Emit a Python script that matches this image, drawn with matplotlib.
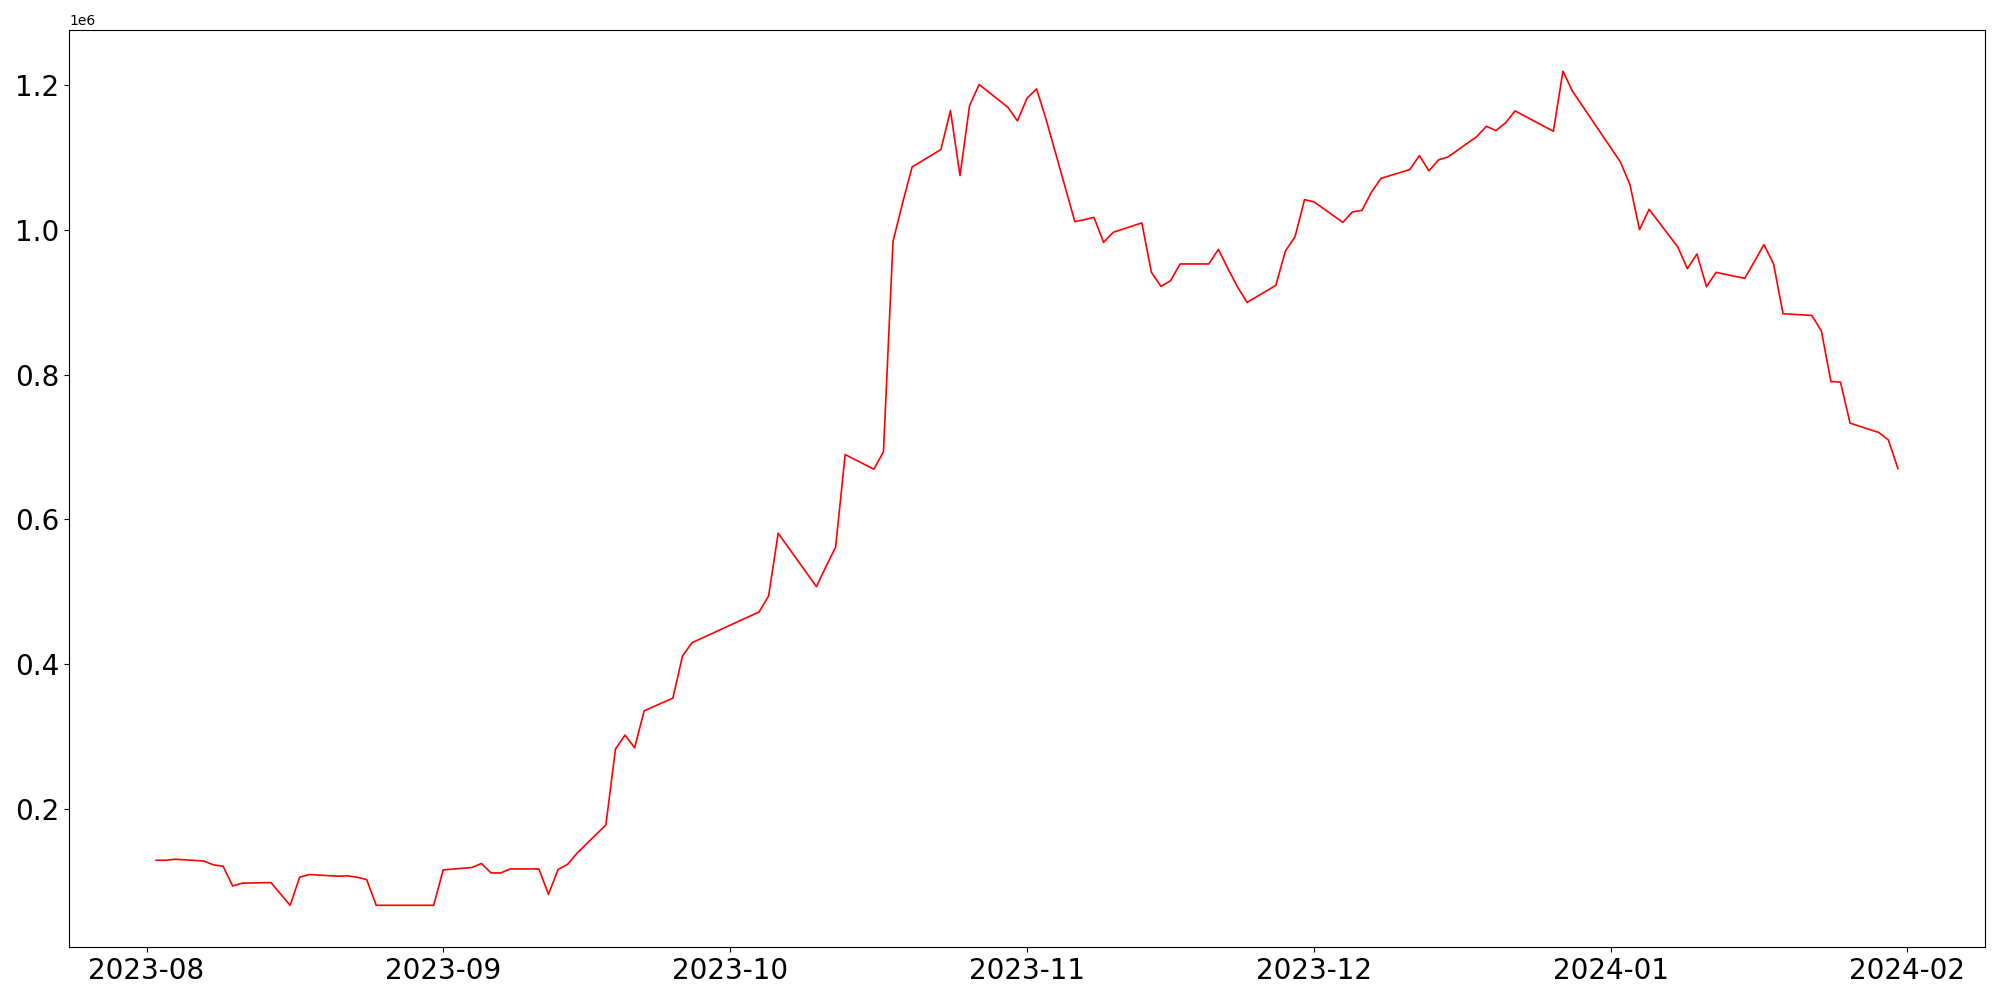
import matplotlib
matplotlib.use("Agg")
import matplotlib.pyplot as plt
import matplotlib.dates as mdates
import pandas as pd

dates = [
    "2023-08-02", "2023-08-03", "2023-08-04", "2023-08-07", "2023-08-08", "2023-08-09",
    "2023-08-10", "2023-08-11", "2023-08-14", "2023-08-16", "2023-08-17", "2023-08-18",
    "2023-08-21", "2023-08-22", "2023-08-23", "2023-08-24", "2023-08-25", "2023-08-28",
    "2023-08-29", "2023-08-30", "2023-08-31",
    "2023-09-01", "2023-09-04", "2023-09-05", "2023-09-06", "2023-09-07", "2023-09-08",
    "2023-09-11", "2023-09-12", "2023-09-13", "2023-09-14", "2023-09-15", "2023-09-18",
    "2023-09-19", "2023-09-20", "2023-09-21", "2023-09-22", "2023-09-25", "2023-09-26",
    "2023-09-27",
    "2023-10-04", "2023-10-05", "2023-10-06", "2023-10-10", "2023-10-11", "2023-10-12",
    "2023-10-13", "2023-10-16", "2023-10-17", "2023-10-18", "2023-10-19", "2023-10-20",
    "2023-10-23", "2023-10-24", "2023-10-25", "2023-10-26", "2023-10-27", "2023-10-30",
    "2023-10-31",
    "2023-11-01", "2023-11-02", "2023-11-03", "2023-11-06", "2023-11-07", "2023-11-08",
    "2023-11-09", "2023-11-10", "2023-11-13", "2023-11-14", "2023-11-15", "2023-11-16",
    "2023-11-17", "2023-11-20", "2023-11-21", "2023-11-22", "2023-11-23", "2023-11-24",
    "2023-11-27", "2023-11-28", "2023-11-29", "2023-11-30",
    "2023-12-01", "2023-12-04", "2023-12-05", "2023-12-06", "2023-12-07", "2023-12-08",
    "2023-12-11", "2023-12-12", "2023-12-13", "2023-12-14", "2023-12-15", "2023-12-18",
    "2023-12-19", "2023-12-20", "2023-12-21", "2023-12-22", "2023-12-26", "2023-12-27",
    "2023-12-28",
    "2024-01-02", "2024-01-03", "2024-01-04", "2024-01-05", "2024-01-08", "2024-01-09",
    "2024-01-10", "2024-01-11", "2024-01-12", "2024-01-15", "2024-01-17", "2024-01-18",
    "2024-01-19", "2024-01-22", "2024-01-23", "2024-01-24", "2024-01-25", "2024-01-26",
    "2024-01-29", "2024-01-30", "2024-01-31",
]

values = [
    129000, 129000, 130400, 128000, 122600, 120800,
    93500, 97300, 98200, 66800, 105600, 109300,
    107000, 107400, 105600, 102400, 66800, 66800,
    66800, 66800, 66800,
    115700, 119000, 124500, 111500, 111500, 117000,
    117000, 82000, 116200, 123500, 139000, 177900,
    282600, 302000, 284400, 335500, 353000, 411100,
    429600,
    472000, 494100, 580800, 507000, 535000, 561400,
    689500, 669300, 693200, 984000, 1037100, 1086900,
    1110800, 1164700, 1074900, 1171700, 1200700, 1169300,
    1150500,
    1181700, 1194700, 1152300, 1011300, 1014000, 1017200,
    982600, 996500, 1009500, 941200, 921800, 929700,
    952800, 952800, 973000, 946300, 921000, 899700,
    923200, 970700, 990100, 1041700,
    1038500, 1010300, 1024700, 1026900, 1052300, 1071100,
    1083200, 1102500, 1081400, 1096600, 1100700, 1128800,
    1143000, 1137100, 1147700, 1164300, 1136100, 1219100,
    1191400,
    1093800, 1062400, 1000200, 1028300, 976300, 946300,
    966600, 921400, 941200, 932900, 979500, 953200,
    884000, 881700, 860500, 790400, 789600, 732900,
    720000, 709800, 670100,
]

x = pd.to_datetime(dates)

fig = plt.figure(figsize=(20, 10), dpi=100)
ax = fig.add_axes([0.0345, 0.053, 0.958, 0.9175])
ax.plot(x, values, color="red", linewidth=1.2)

ax.xaxis.set_major_locator(mdates.MonthLocator())
ax.xaxis.set_major_formatter(mdates.DateFormatter("%Y-%m"))
ax.tick_params(axis="both", labelsize=20)

fig.savefig("out.png", dpi=100)
